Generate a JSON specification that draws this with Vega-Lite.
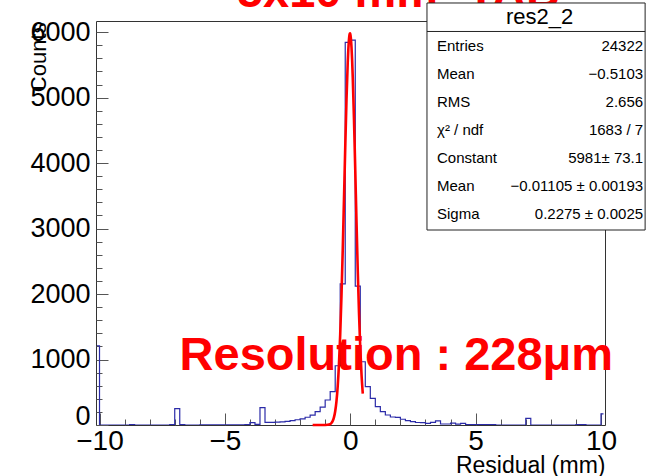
{
  "$schema": "https://vega.github.io/schema/vega-lite/v6.json",
  "width": 509,
  "height": 404,
  "autosize": {"type": "none"},
  "padding": {"left": 96, "top": 21, "right": 41, "bottom": 51},
  "background": "white",
  "config": {
    "view": {"stroke": "#333333", "strokeWidth": 1},
    "font": "Liberation Sans",
    "axis": {"domain": false, "grid": false, "labelOverlap": false, "labelFont": "Liberation Sans", "titleFont": "Liberation Sans", "labelColor": "#000000", "titleColor": "#000000", "titleFontWeight": "normal", "tickColor": "#555555", "tickWidth": 1}
  },
  "datasets": {
    "hist": [
      {"x": -10.1, "count": 1210}, {"x": -9.9, "count": 0}, {"x": -9.7, "count": 0}, {"x": -9.5, "count": 0}, {"x": -9.3, "count": 0},
      {"x": -9.1, "count": 0}, {"x": -8.9, "count": 0}, {"x": -8.7, "count": 5}, {"x": -8.5, "count": 0}, {"x": -8.3, "count": 0},
      {"x": -8.1, "count": 0}, {"x": -7.9, "count": 0}, {"x": -7.7, "count": 0}, {"x": -7.5, "count": 0}, {"x": -7.3, "count": 0},
      {"x": -7.1, "count": 5}, {"x": -6.9, "count": 250}, {"x": -6.7, "count": 5}, {"x": -6.5, "count": 0}, {"x": -6.3, "count": 0},
      {"x": -6.1, "count": 0}, {"x": -5.9, "count": 4}, {"x": -5.7, "count": 3}, {"x": -5.5, "count": 4}, {"x": -5.3, "count": 3},
      {"x": -5.1, "count": 4}, {"x": -4.9, "count": 3}, {"x": -4.7, "count": 4}, {"x": -4.5, "count": 3}, {"x": -4.3, "count": 4},
      {"x": -4.1, "count": 8}, {"x": -3.9, "count": 35}, {"x": -3.7, "count": 10}, {"x": -3.5, "count": 265}, {"x": -3.3, "count": 41},
      {"x": -3.1, "count": 41}, {"x": -2.9, "count": 43}, {"x": -2.7, "count": 48}, {"x": -2.5, "count": 56}, {"x": -2.3, "count": 66},
      {"x": -2.1, "count": 80}, {"x": -1.9, "count": 95}, {"x": -1.7, "count": 118}, {"x": -1.5, "count": 150}, {"x": -1.3, "count": 203},
      {"x": -1.1, "count": 272}, {"x": -0.9, "count": 382}, {"x": -0.7, "count": 510}, {"x": -0.5, "count": 905}, {"x": -0.3, "count": 2155},
      {"x": -0.1, "count": 5843}, {"x": 0.1, "count": 5878}, {"x": 0.3, "count": 2122}, {"x": 0.5, "count": 966}, {"x": 0.7, "count": 585},
      {"x": 0.9, "count": 407}, {"x": 1.1, "count": 280}, {"x": 1.3, "count": 203}, {"x": 1.5, "count": 153}, {"x": 1.7, "count": 122},
      {"x": 1.9, "count": 117}, {"x": 2.1, "count": 88}, {"x": 2.3, "count": 68}, {"x": 2.5, "count": 52}, {"x": 2.7, "count": 38},
      {"x": 2.9, "count": 36}, {"x": 3.1, "count": 26}, {"x": 3.3, "count": 40}, {"x": 3.5, "count": 62}, {"x": 3.7, "count": 15},
      {"x": 3.9, "count": 15}, {"x": 4.1, "count": 28}, {"x": 4.3, "count": 12}, {"x": 4.5, "count": 25}, {"x": 4.7, "count": 6},
      {"x": 4.9, "count": 5}, {"x": 5.1, "count": 5}, {"x": 5.3, "count": 5}, {"x": 5.5, "count": 5}, {"x": 5.7, "count": 5},
      {"x": 5.9, "count": 0}, {"x": 6.1, "count": 0}, {"x": 6.3, "count": 0}, {"x": 6.5, "count": 0}, {"x": 6.7, "count": 0},
      {"x": 6.9, "count": 0}, {"x": 7.1, "count": 100}, {"x": 7.3, "count": 0}, {"x": 7.5, "count": 0}, {"x": 7.7, "count": 0},
      {"x": 7.9, "count": 0}, {"x": 8.1, "count": 0}, {"x": 8.3, "count": 0}, {"x": 8.5, "count": 0}, {"x": 8.7, "count": 0},
      {"x": 8.9, "count": 0}, {"x": 9.1, "count": 5}, {"x": 9.3, "count": 5}, {"x": 9.5, "count": 0}, {"x": 9.7, "count": 0},
      {"x": 9.9, "count": 0}, {"x": 10.1, "count": 170}
    ],
    "fit": [
      {"x": -1.5, "f": 0}, {"x": -1.3, "f": 0}, {"x": -1.1, "f": 0.05}, {"x": -1.0, "f": 0.47}, {"x": -0.9, "f": 2.9},
      {"x": -0.8, "f": 14.6}, {"x": -0.75, "f": 30.6}, {"x": -0.7, "f": 61}, {"x": -0.65, "f": 115.9}, {"x": -0.6, "f": 209.6},
      {"x": -0.55, "f": 361.5}, {"x": -0.5, "f": 593.9}, {"x": -0.45, "f": 929.6}, {"x": -0.4, "f": 1386.9}, {"x": -0.35, "f": 1971.2},
      {"x": -0.3, "f": 2669.7}, {"x": -0.25, "f": 3445.4}, {"x": -0.2, "f": 4236.3}, {"x": -0.15, "f": 4963.3}, {"x": -0.1, "f": 5540.9},
      {"x": -0.075, "f": 5749.3}, {"x": -0.05, "f": 5894.0}, {"x": -0.025, "f": 5969.8}, {"x": -0.011, "f": 5981}, {"x": 0, "f": 5973.9},
      {"x": 0.025, "f": 5906.4}, {"x": 0.05, "f": 5769.5}, {"x": 0.075, "f": 5568.1}, {"x": 0.1, "f": 5309.3}, {"x": 0.15, "f": 4655.4},
      {"x": 0.2, "f": 3889.4}, {"x": 0.25, "f": 3096.5}, {"x": 0.3, "f": 2348.9}, {"x": 0.35, "f": 1697.8}, {"x": 0.4, "f": 1169.2},
      {"x": 0.45, "f": 767.2}, {"x": 0.5, "f": 479.8}
    ],
    "stats": [
      {"k": "a", "label": "Entries", "val": "24322"},
      {"k": "b", "label": "Mean", "val": "−0.5103"},
      {"k": "c", "label": "RMS", "val": "2.656"},
      {"k": "d", "label": "χ² / ndf", "val": "1683 / 7"},
      {"k": "e", "label": "Constant", "val": "5981± 73.1"},
      {"k": "f", "label": "Mean", "val": "−0.01105 ± 0.00193"},
      {"k": "g", "label": "Sigma", "val": "0.2275 ± 0.0025"}
    ]
  },
  "layer": [
    {
      "layer": [
        {
          "data": {"name": "hist"},
          "mark": {"type": "line", "interpolate": "step", "clip": true, "color": "#2b2ba8", "strokeWidth": 1.2},
          "encoding": {
            "x": {
              "field": "x", "type": "quantitative", "title": "Residual (mm)",
              "scale": {"domain": [-10.14, 10.16], "nice": false, "zero": false},
              "axis": {
                "values": [-10, -9, -8, -7, -6, -5, -4, -3, -2, -1, 0, 1, 2, 3, 4, 5, 6, 7, 8, 9, 10],
                "tickCount": 200,
                "labelExpr": "datum.value % 5 === 0 ? format(datum.value, 'd') : ''",
                "labelFontSize": 28, "labelPadding": 14,
                "labelFlush": false, "labelOverlap": false, "labelBound": false,
                "tickSize": {"condition": {"test": "datum.value % 5 === 0", "value": -12}, "value": -6},
                "titleFontSize": 23, "titleX": 509, "titleY": 47, "titleAlign": "right", "titleBaseline": "alphabetic", "titleAnchor": "end"
              }
            },
            "y": {
              "field": "count", "type": "quantitative", "title": "Counts",
              "scale": {"domain": [0, 6170], "nice": false, "zero": false},
              "axis": {
                "values": [0, 200, 400, 600, 800, 1000, 1200, 1400, 1600, 1800, 2000, 2200, 2400, 2600, 2800, 3000, 3200, 3400, 3600, 3800, 4000, 4200, 4400, 4600, 4800, 5000, 5200, 5400, 5600, 5800, 6000],
                "tickCount": 200,
                "labelExpr": "datum.value % 1000 === 0 ? format(datum.value, 'd') : ''",
                "labelFontSize": 27, "labelPadding": 18,
                "labelFlush": false, "labelOverlap": false, "labelBound": false,
                "labelOffset": {"condition": {"test": "datum.value === 0", "value": -9}, "value": 0},
                "tickSize": {"condition": {"test": "datum.value % 1000 === 0", "value": -12}, "value": -6},
                "titleFontSize": 22, "titleAngle": -90, "titleX": -51, "titleY": 1, "titleAlign": "right", "titleBaseline": "alphabetic", "titleAnchor": "end"
              }
            }
          }
        },
        {
          "data": {"name": "fit"},
          "mark": {"type": "line", "interpolate": "monotone", "color": "#ff0000", "strokeWidth": 2.6},
          "encoding": {
            "x": {"field": "x", "type": "quantitative", "title": "Residual (mm)"},
            "y": {"field": "f", "type": "quantitative", "title": "Counts"}
          }
        },
        {
          "data": {"values": [{"t": "Resolution : 228μm"}]},
          "mark": {"type": "text", "color": "#ff0000", "fontSize": 47, "fontWeight": "bold", "font": "Liberation Sans", "align": "center", "baseline": "alphabetic"},
          "encoding": {"x": {"datum": 1.84}, "y": {"datum": 840}, "text": {"field": "t"}}
        },
        {
          "data": {"values": [{"t": "5x10 mm² TAB"}]},
          "mark": {"type": "text", "color": "#ff0000", "fontSize": 47, "fontWeight": "bold", "font": "Liberation Sans", "align": "center", "baseline": "alphabetic"},
          "encoding": {"x": {"datum": 1.92}, "y": {"datum": 6384}, "text": {"field": "t"}}
        },
        {
          "data": {"values": [{}]},
          "mark": {"type": "rect", "fill": "white", "stroke": "#222222", "strokeWidth": 1},
          "encoding": {"x": {"datum": 3.06}, "x2": {"datum": 11.76}, "y": {"datum": 6445}, "y2": {"datum": 2978}}
        },
        {
          "data": {"values": [{}]},
          "mark": {"type": "rule", "color": "#222222", "strokeWidth": 1},
          "encoding": {"x": {"datum": 3.06}, "x2": {"datum": 11.76}, "y": {"datum": 6010}}
        },
        {
          "data": {"values": [{"t": "res2_2"}]},
          "mark": {"type": "text", "color": "#000000", "fontSize": 22, "font": "Liberation Sans", "align": "center", "baseline": "middle"},
          "encoding": {"x": {"datum": 7.55}, "y": {"datum": 6231}, "text": {"field": "t"}}
        }
      ]
    },
    {
      "data": {"name": "stats"},
      "layer": [
        {
          "mark": {"type": "text", "align": "left", "baseline": "middle", "fontSize": 15, "font": "Liberation Sans", "color": "#000000"},
          "encoding": {
            "x": {"datum": 3.46},
            "y": {"field": "k", "type": "ordinal", "sort": null, "scale": {"type": "point", "range": [25, 193], "padding": 0}, "axis": null},
            "text": {"field": "label"}
          }
        },
        {
          "mark": {"type": "text", "align": "right", "baseline": "middle", "fontSize": 15, "font": "Liberation Sans", "color": "#000000"},
          "encoding": {
            "x": {"datum": 11.68},
            "y": {"field": "k", "type": "ordinal", "sort": null, "scale": {"type": "point", "range": [25, 193], "padding": 0}, "axis": null},
            "text": {"field": "val"}
          }
        }
      ]
    }
  ],
  "resolve": {"scale": {"y": "independent"}}
}
